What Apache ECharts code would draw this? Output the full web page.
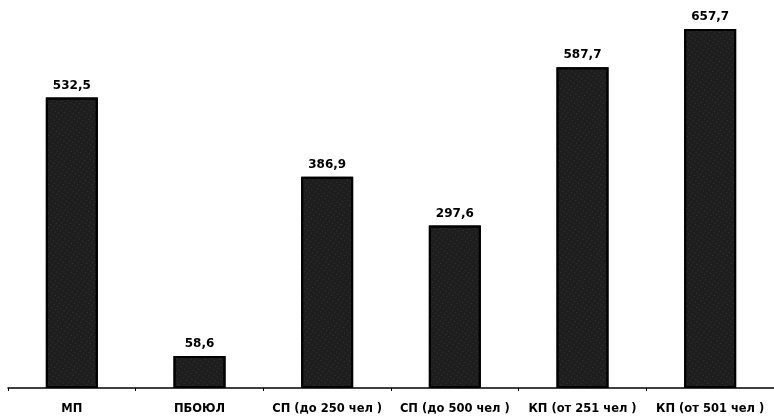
<!DOCTYPE html>
<html><head><meta charset="utf-8">
<script src="https://cdn.jsdelivr.net/npm/echarts@6/dist/echarts.min.js"></script>
<style>html,body{margin:0;padding:0;background:#fff}#c{width:774px;height:420px}</style>
</head><body><div id="c"></div>
<script>
const categories = ["МП", "ПБОЮЛ", "СП (до 250 чел )", "СП (до 500 чел )", "КП (от 251 чел )", "КП (от 501 чел )"];
const values = [532.5, 58.6, 386.9, 297.6, 587.7, 657.7];
const chart = echarts.init(document.getElementById('c'));
chart.setOption({
  animation: false,
  backgroundColor: '#fff',
  grid: { left: 8, width: 771, top: 6, bottom: 32 },
  xAxis: {
    type: 'category', data: categories,
    axisLine: { lineStyle: { color: '#000', width: 1.5 } },
    axisTick: { show: true, length: 3, lineStyle: { color: '#000' } },
    axisLabel: { color: '#000', fontFamily: 'DejaVu Sans', fontWeight: 'bold', fontSize: 11.5, margin: 15, interval: 0 }
  },
  yAxis: { type: 'value', min: 0, max: 700, show: false, splitLine: { show: false } },
  series: [{
    type: 'bar', data: values, barWidth: 52,
    itemStyle: {
      color: '#1e1e1e', borderColor: '#000', borderWidth: 2,
      decal: { symbol: 'rect', color: 'rgba(255,255,255,0.35)', symbolSize: 0.6, dashArrayX: [1, 3], dashArrayY: [1, 3], rotation: 0.6 }
    },
    label: {
      show: true, position: 'top', distance: 6, color: '#000',
      fontFamily: 'DejaVu Sans', fontWeight: 'bold', fontSize: 12,
      formatter: p => p.value.toFixed(1).replace('.', ',')
    }
  }]
});
</script></body></html>
